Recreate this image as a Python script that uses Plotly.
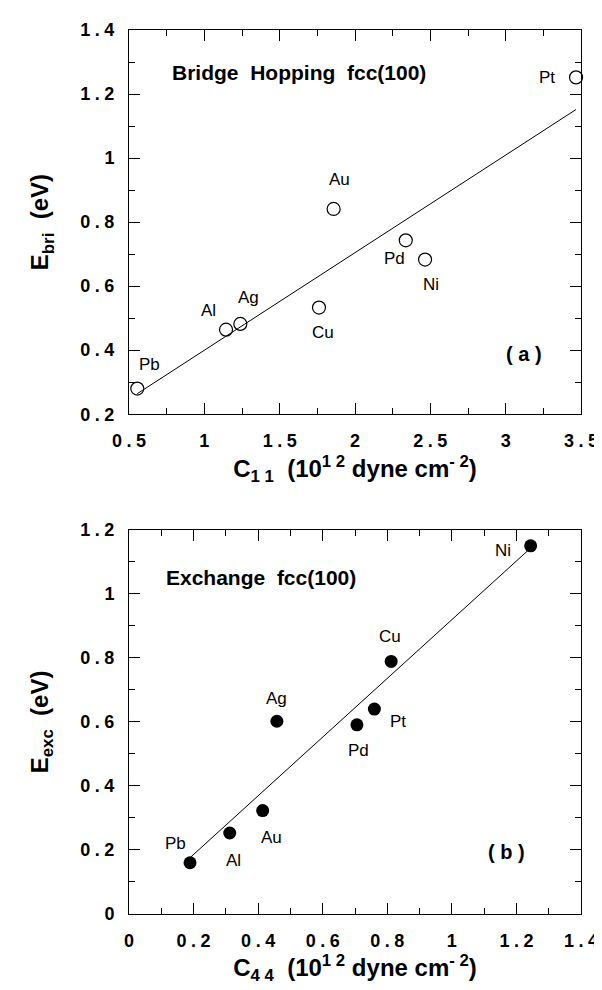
import numpy as np
import plotly.graph_objects as go

# ---- data (panel a) ----
elements_a = ["Pb", "Al", "Ag", "Cu", "Au", "Pd", "Ni", "Pt"]
c11 = [0.555, 1.144, 1.239, 1.761, 1.858, 2.337, 2.465, 3.467]
e_bri = [0.280, 0.464, 0.482, 0.533, 0.841, 0.743, 0.683, 1.252]
# label positions (data coords) for panel a
lab_a_x = [0.638, 1.026, 1.294, 1.79, 1.896, 2.259, 2.502, 3.274]
lab_a_y = [0.356, 0.525, 0.565, 0.456, 0.934, 0.685, 0.605, 1.252]

# ---- data (panel b) ----
elements_b = ["Pb", "Al", "Au", "Ag", "Pd", "Pt", "Cu", "Ni"]
c44 = [0.189, 0.312, 0.414, 0.458, 0.706, 0.760, 0.812, 1.244]
e_exc = [0.160, 0.253, 0.323, 0.602, 0.591, 0.640, 0.789, 1.150]
lab_b_x = [0.143, 0.324, 0.441, 0.458, 0.712, 0.833, 0.809, 1.158]
lab_b_y = [0.220, 0.168, 0.240, 0.674, 0.512, 0.600, 0.867, 1.135]

S = "\u2005"
xticks_a = [0.5, 1, 1.5, 2, 2.5, 3, 3.5]
xtext_a = ["0.5", "1", "1.5", "2", "2.5", "3", "3.5"]
yticks_a = [0.2, 0.4, 0.6, 0.8, 1.0, 1.2, 1.4]
ytext_a = ["0.2", "0.4", "0.6", "0.8", "1", "1.2", "1.4"]
xticks_b = [0, 0.2, 0.4, 0.6, 0.8, 1.0, 1.2, 1.4]
xtext_b = ["0", "0.2", "0.4", "0.6", "0.8", "1", "1.2", "1.4"]
yticks_b = [0, 0.2, 0.4, 0.6, 0.8, 1.0, 1.2]
ytext_b = ["0", "0.2", "0.4", "0.6", "0.8", "1", "1.2"]

def spaced(labels):
    return [s.replace(".", S + "." + S) for s in labels]

FONT = "Liberation Sans, Arial, Helvetica, sans-serif"

# linear fits
pa = np.polyfit(c11, e_bri, 1)
pb = np.polyfit(c44, e_exc, 1)
fxa = np.array([min(c11), max(c11)])
fxb = np.array([min(c44), max(c44)])

fig = go.Figure()
fig.add_trace(go.Scatter(x=fxa, y=np.polyval(pa, fxa), mode="lines",
                         line=dict(color="black", width=1), xaxis="x", yaxis="y",
                         showlegend=False, hoverinfo="skip"))
fig.add_trace(go.Scatter(x=c11, y=e_bri, mode="markers", xaxis="x", yaxis="y",
                         marker=dict(symbol="circle-open", size=13, color="black",
                                     line=dict(width=1.2, color="black")),
                         text=elements_a, showlegend=False, cliponaxis=False))
fig.add_trace(go.Scatter(x=fxb, y=np.polyval(pb, fxb), mode="lines",
                         line=dict(color="black", width=1), xaxis="x2", yaxis="y2",
                         showlegend=False, hoverinfo="skip"))
fig.add_trace(go.Scatter(x=c44, y=e_exc, mode="markers", xaxis="x2", yaxis="y2",
                         marker=dict(symbol="circle", size=13, color="black"),
                         text=elements_b, showlegend=False, cliponaxis=False))

def axis(rng, vals, text, dtick_minor, domain, anchor, title):
    return dict(range=rng, domain=domain, anchor=anchor,
                tickmode="array", tickvals=vals, ticktext=spaced(text),
                ticks="inside", ticklen=11, tickwidth=1, tickcolor="black",
                minor=dict(ticks="inside", ticklen=6, dtick=dtick_minor,
                           tickwidth=1, tickcolor="black"),
                showline=True, linecolor="black", linewidth=1, mirror="allticks",
                showgrid=False, zeroline=False,
                tickfont=dict(family=FONT, size=18, color="black", weight="bold"),
                title=dict(text=title, font=dict(family=FONT, size=24, color="black",
                                                 weight="bold")),
                ticklabelstandoff=10)

xa = axis([0.5, 3.5], xticks_a, xtext_a, 0.25, [0, 1], "y",
          "C<sub>1 1</sub>  (10<sup>1 2</sup> dyne cm<sup>- 2</sup>)")
ya = axis([0.2, 1.4], yticks_a, ytext_a, 0.1, [0.5654, 1], "x",
          "E<sub>bri</sub>  (eV)")
xb = axis([0, 1.4], xticks_b, xtext_b, 0.1, [0, 1], "y2",
          "C<sub>4 4</sub>  (10<sup>1 2</sup> dyne cm<sup>- 2</sup>)")
yb = axis([0, 1.2], yticks_b, ytext_b, 0.1, [0, 0.4346], "x2",
          "E<sub>exc</sub>  (eV)")
xa["title"]["standoff"] = 10
xb["title"]["standoff"] = 5
ya["title"]["standoff"] = 24
yb["title"]["standoff"] = 24

annotations = []
for t, x, y in zip(elements_a, lab_a_x, lab_a_y):
    annotations.append(dict(text=t, x=x, y=y, xref="x", yref="y", showarrow=False,
                            font=dict(family=FONT, size=17, color="black")))
for t, x, y in zip(elements_b, lab_b_x, lab_b_y):
    annotations.append(dict(text=t, x=x, y=y, xref="x2", yref="y2", showarrow=False,
                            font=dict(family=FONT, size=17, color="black")))
annotations.append(dict(text="Bridge  Hopping  fcc(100)", x=1.63, y=1.266, xref="x", yref="y",
                        showarrow=False,
                        font=dict(family=FONT, size=21, color="black", weight="bold")))
annotations.append(dict(text="( a )", x=3.12, y=0.387, xref="x", yref="y", showarrow=False,
                        font=dict(family=FONT, size=20, color="black", weight="bold")))
annotations.append(dict(text="Exchange  fcc(100)", x=0.41, y=1.052, xref="x2", yref="y2",
                        showarrow=False,
                        font=dict(family=FONT, size=21, color="black", weight="bold")))
annotations.append(dict(text="( b )", x=1.17, y=0.194, xref="x2", yref="y2", showarrow=False,
                        font=dict(family=FONT, size=20, color="black", weight="bold")))

fig.update_layout(width=602, height=990,
                  margin=dict(l=121, r=21, t=13, b=84),
                  paper_bgcolor="white", plot_bgcolor="white",
                  xaxis=xa, yaxis=ya, xaxis2=xb, yaxis2=yb,
                  annotations=annotations, showlegend=False)

fig.write_html("out.html")
